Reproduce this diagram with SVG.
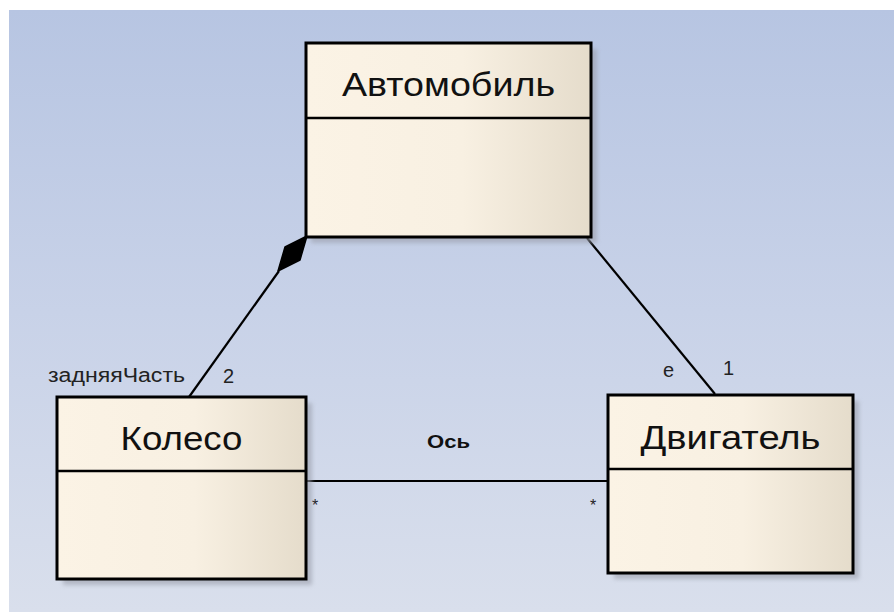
<svg xmlns="http://www.w3.org/2000/svg" width="894" height="612" viewBox="0 0 894 612">
  <defs>
    <linearGradient id="bg" x1="0" y1="0" x2="0" y2="1">
      <stop offset="0" stop-color="#B7C5E2"/>
      <stop offset="0.5" stop-color="#C8D2E8"/>
      <stop offset="1" stop-color="#D9DFEC"/>
    </linearGradient>
    <linearGradient id="cls" x1="0" y1="0" x2="1" y2="0">
      <stop offset="0" stop-color="#FBF3E5"/>
      <stop offset="0.55" stop-color="#F8F0E2"/>
      <stop offset="1" stop-color="#E5DCCB"/>
    </linearGradient>
    <filter id="soft" x="-10%" y="-10%" width="120%" height="120%">
      <feGaussianBlur stdDeviation="2"/>
    </filter>
  </defs>
  <style>
    .shadow { fill: #9A9EAA; opacity: 0.6; filter: url(#soft); }
    .box { fill: url(#cls); stroke: #000; stroke-width: 3; }
    .div { stroke: #000; stroke-width: 2.5; }
    .name { font-family: "Liberation Sans", Arial, sans-serif; font-size: 33px; fill: #111; text-anchor: middle; }
    .lbl { font-family: "Liberation Sans", Arial, sans-serif; font-size: 20px; fill: #222; }
    .bold { font-family: "Liberation Sans", Arial, sans-serif; font-size: 18px; font-weight: bold; fill: #111; }
    .star { font-family: "Liberation Sans", Arial, sans-serif; font-size: 16px; fill: #222; }
    .edge { stroke: #000; stroke-width: 2.2; fill: none; }
  </style>

  <rect width="894" height="612" fill="#FFFFFF"/>
  <rect x="9" y="10" width="885" height="602" fill="url(#bg)"/>

  <!-- connectors -->
  <g id="connectors">
    <line class="edge" x1="189" y1="397" x2="279" y2="271"/>
    <polygon points="307,236 300,260 278,271 285,247" fill="#000" stroke="#000" stroke-width="1.5" stroke-linejoin="round"/>
    <line class="edge" x1="587" y1="238" x2="715" y2="394"/>
    <line class="edge" x1="306" y1="481" x2="608" y2="481"/>
    <text class="lbl" x="48" y="382" textLength="137" lengthAdjust="spacingAndGlyphs">задняяЧасть</text>
    <text class="lbl" x="223" y="383">2</text>
    <text class="lbl" x="663" y="377">e</text>
    <text class="lbl" x="723" y="375">1</text>
    <text class="bold" x="427" y="448" textLength="43" lengthAdjust="spacingAndGlyphs">Ось</text>
    <text class="star" x="312" y="511">*</text>
    <text class="star" x="590" y="511">*</text>
  </g>

  <!-- class Автомобиль -->
  <g id="avtomobil">
    <rect class="shadow" x="311" y="49" width="286" height="194"/>
    <rect class="box" x="306" y="43" width="285" height="194"/>
    <line class="div" x1="306" y1="118" x2="591" y2="118"/>
    <text class="name" x="448.5" y="96" textLength="213" lengthAdjust="spacingAndGlyphs">Автомобиль</text>
  </g>

  <!-- class Колесо -->
  <g id="koleso">
    <rect class="shadow" x="63" y="403" width="249" height="182"/>
    <rect class="box" x="57" y="397" width="249" height="182"/>
    <line class="div" x1="57" y1="471" x2="306" y2="471"/>
    <text class="name" x="181.5" y="450" textLength="122" lengthAdjust="spacingAndGlyphs">Колесо</text>
  </g>

  <!-- class Двигатель -->
  <g id="dvigatel">
    <rect class="shadow" x="614" y="401" width="245" height="178"/>
    <rect class="box" x="608" y="395" width="245" height="178"/>
    <line class="div" x1="608" y1="469" x2="853" y2="469"/>
    <text class="name" x="730.5" y="449" textLength="180" lengthAdjust="spacingAndGlyphs">Двигатель</text>
  </g>
</svg>
